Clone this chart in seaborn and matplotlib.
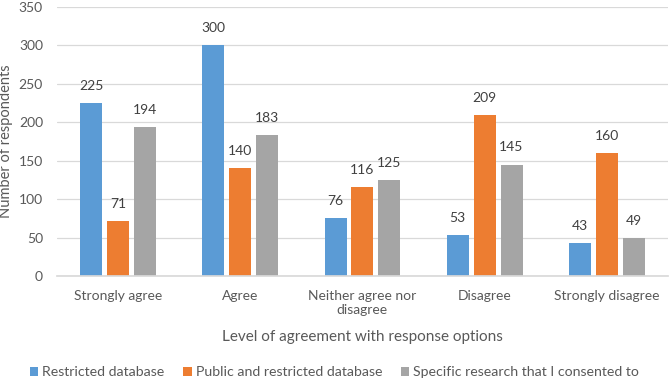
import pandas as pd
import matplotlib
matplotlib.use("Agg")
import matplotlib.pyplot as plt
import seaborn as sns

# Sample data
categories = ["Strongly agree", "Agree", "Neither agree nor\ndisagree", "Disagree", "Strongly disagree"]
restricted = [225, 300, 76, 53, 43]
public_restricted = [71, 140, 116, 209, 160]
specific = [194, 183, 125, 145, 49]
series_names = ["Restricted database", "Public and restricted database", "Specific research that I consented to"]

df = pd.DataFrame({
    "category": categories * 3,
    "value": restricted + public_restricted + specific,
    "series": [series_names[0]] * 5 + [series_names[1]] * 5 + [series_names[2]] * 5,
})

sns.set_theme(style="white")
plt.rcParams["font.family"] = ["Lato", "DejaVu Sans"]
text_col = "#595959"
palette = ["#5B9BD5", "#ED7D31", "#A5A5A5"]

fig = plt.figure(figsize=(6.69, 3.91), dpi=100)
ax = fig.add_axes([0.085, 0.294, 0.9135, 0.688])

sns.barplot(data=df, x="category", y="value", hue="series", palette=palette,
            width=0.66, gap=0.18, saturation=1, linewidth=0, ax=ax, legend=True)

for cont in ax.containers:
    ax.bar_label(cont, padding=8, fontsize=10, color="#404040")

ax.set_ylim(0, 350)
ax.set_yticks(range(0, 351, 50))
ax.set_xlim(-0.5, 4.5)
ax.yaxis.grid(True, color="#D9D9D9", linewidth=0.9)
ax.set_axisbelow(True)
for s in ["top", "right", "left"]:
    ax.spines[s].set_visible(False)
ax.spines["bottom"].set_color("#D9D9D9")
ax.tick_params(axis="both", length=0, labelsize=10, colors=text_col, pad=10)
ax.tick_params(axis="x", pad=10)
ax.set_xlabel("Level of agreement with response options", fontsize=11, color=text_col, labelpad=10)
ax.set_ylabel("Number of respondents", fontsize=10.5, color=text_col, labelpad=4)

handles, labels = ax.get_legend_handles_labels()
ax.legend_.remove()
fig.legend(handles, labels, loc="lower center", bbox_to_anchor=(0.5, 0.0), ncol=3, frameon=False,
           fontsize=10.2, labelcolor=text_col, handlelength=0.6, handleheight=0.6,
           handletextpad=0.3, columnspacing=1.3)

fig.savefig("out.png", dpi=100)
